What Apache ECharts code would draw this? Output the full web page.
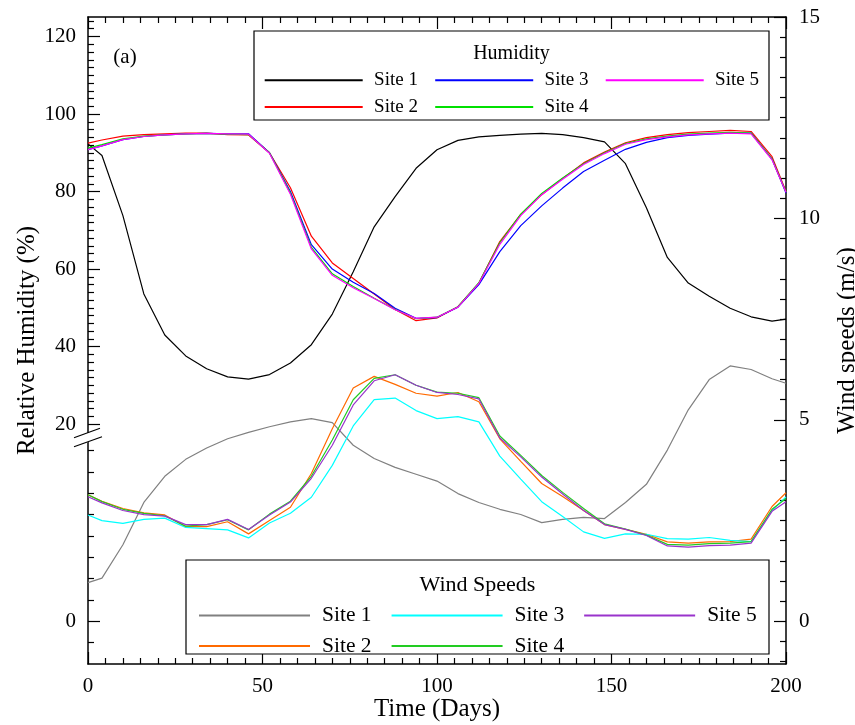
<!DOCTYPE html>
<html><head><meta charset="utf-8">
<script src="https://cdn.jsdelivr.net/npm/echarts@6/dist/echarts.min.js"></script>
<style>html,body{margin:0;padding:0;background:#fff}#c{width:855px;height:725px}</style>
</head><body><div id="c"></div>
<script>
const days = [0,4,10,16,22,28,34,40,46,52,58,64,70,76,82,88,94,100,106,112,118,124,130,136,142,148,154,160,166,172,178,184,190,196,200];

const humSite1 = [92.3,89.3,73.8,53.6,43.0,37.6,34.3,32.2,31.6,32.8,35.8,40.5,48.4,59.3,70.9,78.7,86.0,90.8,93.2,94.1,94.5,94.8,95.0,94.7,93.9,92.8,87.2,75.8,63.0,56.4,53.0,49.9,47.7,46.6,47.1];
const humSite2 = [92.5,93.3,94.3,94.7,94.9,95.1,95.1,94.7,94.6,90.0,81.0,68.5,61.6,57.6,53.6,49.6,46.7,47.4,50.3,56.4,67.1,74.1,79.2,83.4,87.4,90.2,92.6,93.9,94.7,95.2,95.5,95.8,95.5,89.0,80.0];
const humSite3 = [90.8,91.8,93.4,94.2,94.6,94.9,95.0,94.9,94.9,90.0,80.0,66.3,60.0,56.6,53.7,49.9,47.3,47.5,50.2,56.0,64.5,71.2,76.3,80.9,85.2,88.1,90.9,92.7,93.9,94.5,94.8,95.1,95.1,88.4,79.6];
const humSite4 = [91.2,92.1,93.6,94.3,94.6,94.9,95.0,94.8,94.7,90.0,79.6,65.6,58.8,55.5,52.5,49.6,47.2,47.6,50.3,56.5,66.8,74.2,79.5,83.5,87.2,90.0,92.4,93.6,94.3,94.8,95.1,95.3,95.1,88.4,79.9];
const humSite5 = [90.8,91.8,93.4,94.2,94.6,94.9,95.0,94.9,94.8,89.9,79.3,65.2,58.4,55.2,52.4,49.5,47.3,47.6,50.2,56.3,66.4,73.8,79.2,83.2,87.0,89.8,92.2,93.4,94.1,94.6,94.9,95.1,94.9,88.2,79.8];

const windSite1 = [0.96,1.07,1.9,2.95,3.6,4.02,4.3,4.53,4.69,4.83,4.95,5.03,4.93,4.37,4.04,3.82,3.65,3.48,3.17,2.95,2.78,2.65,2.45,2.53,2.58,2.55,2.95,3.4,4.25,5.25,6.0,6.34,6.25,6.02,5.91];
const windSite2 = [3.14,2.98,2.8,2.69,2.64,2.35,2.35,2.47,2.17,2.5,2.83,3.67,4.78,5.79,6.08,5.88,5.66,5.59,5.68,5.45,4.53,3.97,3.42,3.1,2.75,2.4,2.28,2.16,1.97,1.94,1.97,1.98,2.04,2.85,3.19];
const windSite3 = [2.64,2.5,2.43,2.53,2.56,2.33,2.3,2.27,2.07,2.44,2.68,3.08,3.87,4.85,5.5,5.54,5.23,5.03,5.08,4.95,4.1,3.53,2.97,2.6,2.22,2.06,2.17,2.16,2.05,2.04,2.08,2.01,1.98,2.75,3.09];
const windSite4 = [3.14,2.97,2.78,2.68,2.62,2.36,2.4,2.52,2.27,2.66,2.98,3.6,4.5,5.5,6.03,6.12,5.86,5.69,5.66,5.55,4.6,4.12,3.62,3.2,2.8,2.42,2.29,2.14,1.91,1.89,1.93,1.94,1.98,2.78,3.05];
const windSite5 = [3.09,2.94,2.75,2.65,2.61,2.4,2.4,2.53,2.28,2.64,2.96,3.55,4.37,5.37,5.97,6.12,5.86,5.68,5.63,5.52,4.55,4.08,3.58,3.16,2.75,2.4,2.28,2.13,1.87,1.84,1.88,1.89,1.94,2.73,2.97];

const humTicks = [20,40,60,80,100,120];
const windTicks = [0,5,10,15];
const lowerLeftTicks = [0];

const siteNames = ['Site 1','Site 2','Site 3','Site 4','Site 5'];
const humColors = ['#000000','#ff0000','#0000ff','#00e000','#ff00ff'];
const windColors = ['#808080','#ff6a00','#00ffff','#22cc22','#9933cc'];

const FF = 'Liberation Serif';
const chart = echarts.init(document.getElementById('c'), null, {renderer:'canvas'});

const humData = [humSite1,humSite2,humSite3,humSite4,humSite5];
const windData = [windSite1,windSite2,windSite3,windSite4,windSite5];

function range(a,b,s,skip){const r=[];for(let v=a;v<=b+1e-9;v+=s){const x=Math.round(v*100)/100;if(!skip||!skip(x))r.push(x);}return r;}

const HMIN=-41.86, HMAX=125.03, WMIN=-1.06, WMAX=15, LMIN=-2, LMAX=28.32;
const axisLineStyle = {color:'#000', width:1.5};
const tickStyle = {color:'#000', width:1.2};

const series = [];
humData.forEach((arr,i)=>{
  series.push({name:'H|'+siteNames[i], type:'line', xAxisIndex:0, yAxisIndex:0, symbol:'none', showSymbol:false,
    data: days.map((d,j)=>[d,arr[j]]), lineStyle:{width:1.2, color:humColors[i]}, itemStyle:{color:humColors[i]}, z:3});
});
windData.forEach((arr,i)=>{
  series.push({name:'W|'+siteNames[i], type:'line', xAxisIndex:0, yAxisIndex:4, symbol:'none', showSymbol:false,
    data: days.map((d,j)=>[d,arr[j]]), lineStyle:{width:1.2, color:windColors[i]}, itemStyle:{color:windColors[i]}, z:3});
});

const legendCommon = {orient:'horizontal', selectedMode:false, padding:0, z:10,
  itemStyle:{opacity:0}, formatter: n => n.split('|')[1]};
const humLegendStyle = {itemWidth:98, itemHeight:10, itemGap:16.3,
  textStyle:{fontFamily:FF, fontSize:19, color:'#000', padding:[0,0,0,6.4]}};
const windLegendStyle = {itemWidth:111, itemHeight:11, itemGap:19,
  textStyle:{fontFamily:FF, fontSize:21.5, color:'#000', padding:[0,0,0,7]}};

const option = {
  animation:false,
  backgroundColor:'#fff',
  grid:{left:88, right:69, top:17, bottom:61, containLabel:false, outerBoundsMode:'none'},
  xAxis:[
    {type:'value', min:0, max:200, interval:50, position:'bottom',
     axisLine:{show:true, onZero:false, lineStyle:axisLineStyle},
     axisTick:{show:true, inside:true, length:12, lineStyle:tickStyle},
     minorTick:{show:true, splitNumber:10, length:6, lineStyle:tickStyle},
     axisLabel:{fontFamily:FF, fontSize:21, color:'#000', margin:12},
     splitLine:{show:false}, minorSplitLine:{show:false},
     name:'Time (Days)', nameLocation:'middle', nameGap:33, nameMoveOverlap:false,
     nameTextStyle:{fontFamily:FF, fontSize:25, color:'#000'}},
    {type:'value', min:0, max:200, interval:50, position:'top',
     axisLine:{show:true, onZero:false, lineStyle:axisLineStyle},
     axisTick:{show:true, inside:true, length:12, lineStyle:tickStyle},
     minorTick:{show:true, splitNumber:10, length:6, lineStyle:tickStyle},
     axisLabel:{show:false}, splitLine:{show:false}, minorSplitLine:{show:false}}
  ],
  yAxis:[
    {type:'value', min:HMIN, max:HMAX, position:'left',
     axisLine:{show:true, onZero:false, lineStyle:axisLineStyle},
     axisTick:{show:true, inside:true, length:12, lineStyle:tickStyle, customValues:humTicks},
     axisLabel:{fontFamily:FF, fontSize:21, color:'#000', margin:12, customValues:humTicks},
     splitLine:{show:false},
     name:'Relative Humidity (%)', nameLocation:'middle', nameGap:48, nameRotate:90, nameMoveOverlap:false,
     nameTextStyle:{fontFamily:FF, fontSize:25, color:'#000'}},
    {type:'value', min:HMIN, max:HMAX, position:'left',
     axisLine:{show:false, onZero:false},
     axisTick:{show:true, inside:true, length:6, lineStyle:tickStyle, customValues:range(22,124,2,v=>v%20===0)},
     axisLabel:{show:false}, splitLine:{show:false}},
    {type:'value', min:LMIN, max:LMAX, position:'left',
     axisLine:{show:false, onZero:false},
     axisTick:{show:true, inside:true, length:12, lineStyle:tickStyle, customValues:lowerLeftTicks},
     axisLabel:{fontFamily:FF, fontSize:21, color:'#000', margin:12, customValues:lowerLeftTicks},
     splitLine:{show:false}},
    {type:'value', min:LMIN, max:LMAX, position:'left',
     axisLine:{show:false, onZero:false},
     axisTick:{show:true, inside:true, length:6, lineStyle:tickStyle, customValues:range(-1,8,1,v=>v===0)},
     axisLabel:{show:false}, splitLine:{show:false}},
    {type:'value', min:WMIN, max:WMAX, position:'right',
     axisLine:{show:true, onZero:false, lineStyle:axisLineStyle},
     axisTick:{show:true, inside:true, length:12, lineStyle:tickStyle, customValues:windTicks},
     axisLabel:{fontFamily:FF, fontSize:21, color:'#000', margin:13, customValues:windTicks},
     splitLine:{show:false},
     name:'Wind speeds (m/s)', nameLocation:'middle', nameGap:49, nameRotate:90, nameMoveOverlap:false,
     nameTextStyle:{fontFamily:FF, fontSize:25, color:'#000'}},
    {type:'value', min:WMIN, max:WMAX, position:'right',
     axisLine:{show:false, onZero:false},
     axisTick:{show:true, inside:true, length:6, lineStyle:tickStyle, customValues:range(-1,14.5,0.5,v=>v%5===0)},
     axisLabel:{show:false}, splitLine:{show:false}}
  ],
  legend:[
    Object.assign({}, legendCommon, humLegendStyle, {data:['H|Site 1','H|Site 3','H|Site 5'], left:263.7, top:70.7}),
    Object.assign({}, legendCommon, humLegendStyle, {data:['H|Site 2','H|Site 4'], left:263.7, top:97.5}),
    Object.assign({}, legendCommon, windLegendStyle, {data:['W|Site 1','W|Site 3','W|Site 5'], left:198, top:604.5}),
    Object.assign({}, legendCommon, windLegendStyle, {data:['W|Site 2','W|Site 4'], left:198, top:635.1})
  ],
  graphic:[
    {type:'rect', z:9, shape:{x:254, y:31, width:515, height:89}, style:{fill:'#fff', stroke:'#000', lineWidth:1.2}},
    {type:'rect', z:9, shape:{x:186, y:560, width:583, height:94}, style:{fill:'#fff', stroke:'#000', lineWidth:1.2}},
    {type:'text', x:125, y:57, z:100, style:{text:'(a)', fontFamily:FF, fontSize:21, fill:'#000', align:'center', verticalAlign:'middle'}},
    {type:'text', x:511.5, y:54, z:100, style:{text:'Humidity', fontFamily:FF, fontSize:20, fill:'#000', align:'center', verticalAlign:'middle'}},
    {type:'text', x:477.5, y:585.5, z:100, style:{text:'Wind Speeds', fontFamily:FF, fontSize:22, fill:'#000', align:'center', verticalAlign:'middle'}},
    {type:'polygon', z:100, shape:{points:[[73,438],[101,428],[103,436.7],[73,447.4]]}, style:{fill:'#fff'}},
    {type:'line', z:101, shape:{x1:74,y1:437.7,x2:100,y2:428.3}, style:{stroke:'#000', lineWidth:1.2}},
    {type:'line', z:101, shape:{x1:74,y1:446.7,x2:102,y2:436.7}, style:{stroke:'#000', lineWidth:1.2}}
  ],
  series: series
};
chart.setOption(option);
</script></body></html>
